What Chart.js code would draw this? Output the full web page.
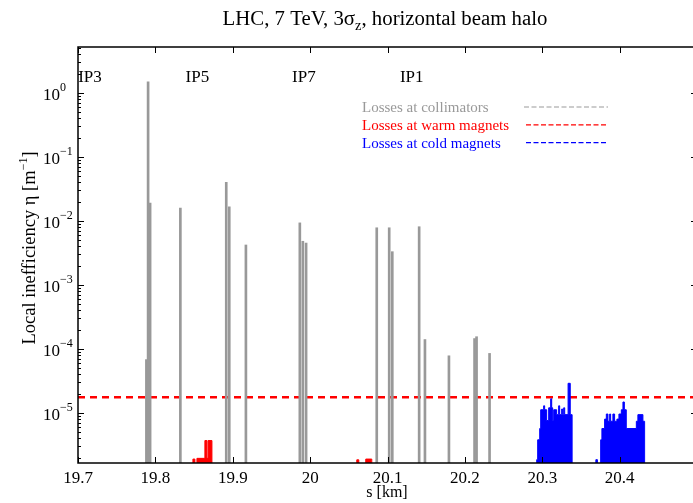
<!DOCTYPE html>
<html>
<head>
<meta charset="utf-8">
<title>LHC loss map</title>
<script src="https://cdn.jsdelivr.net/npm/chart.js@4.4.1/dist/chart.umd.min.js"></script>
<style>
  html, body { margin: 0; padding: 0; background: #fff; overflow: hidden; }
  #wrap { width: 700px; height: 503px; }
</style>
</head>
<body>
<div id="wrap"><canvas id="lossMap" width="700" height="503"></canvas></div>
<script>
// losses at collimators: position s [km] and local inefficiency
const collS   = [19.7884, 19.7906, 19.7932, 19.8323, 19.8916, 19.8955, 19.9170,
                 19.9867, 19.9906, 19.9948, 20.0861, 20.1022, 20.1062, 20.1409,
                 20.1484, 20.1794, 20.2125, 20.2151, 20.2319];
const collEta = [6.8e-5, 1.49, 0.019, 0.0159, 0.040, 0.0165, 0.0042,
                 0.0093, 0.0048, 0.0045, 0.0078, 0.0078, 0.0033, 0.0081,
                 1.40e-4, 7.8e-5, 1.45e-4, 1.55e-4, 8.5e-5];

// losses at warm magnets (histogram steps, each value holds until the next s)
const warmS   = [19.8485, 19.8485, 19.8511, 19.8537, 19.8640, 19.8666, 19.8681, 19.8731,
                 20.0603, 20.0629, 20.0719, 20.0797];
const warmEta = [1e-9, 1.9e-6, 1e-9, 1.95e-6, 3.7e-6, 1.95e-6, 3.7e-6, 1e-9,
                 1.85e-6, 1e-9, 1.9e-6, 1e-9];

// losses at cold magnets (same step layout)
const coldS   = [20.2928, 20.2928, 20.2941, 20.2967, 20.2980, 20.3018, 20.3031, 20.3057,
                 20.3083, 20.3109, 20.3122, 20.3135, 20.3148, 20.3186, 20.3212, 20.3225,
                 20.3251, 20.3264, 20.3277, 20.3290, 20.3334, 20.3362, 20.3386,
                 20.3693, 20.3713, 20.3755, 20.3771, 20.3806, 20.3828, 20.3849, 20.3871,
                 20.3884, 20.3913, 20.3935, 20.3965, 20.3991, 20.4022, 20.4043, 20.4061,
                 20.4086, 20.4216, 20.4236, 20.4301, 20.4323];
const coldEta = [1e-9, 1.86e-6, 3.8e-6, 5.7e-6, 1.12e-5, 1.29e-5, 1.12e-5, 7.6e-6,
                 1.2e-5, 1.66e-5, 1.2e-5, 7.6e-6, 1.12e-5, 9.4e-6, 1.29e-5, 9.4e-6,
                 1.15e-5, 9.4e-6, 1.2e-5, 9.4e-6, 2.9e-5, 9.4e-6, 1e-9,
                 1.86e-6, 1e-9, 3.8e-6, 5.7e-6, 8.0e-6, 9.6e-6, 7.4e-6, 9.6e-6,
                 7.4e-6, 9.6e-6, 7.4e-6, 8.0e-6, 9.6e-6, 1.12e-5, 1.48e-5, 1.12e-5,
                 5.7e-6, 7.4e-6, 9.4e-6, 7.4e-6, 1e-9];

const threshold = 1.75e-5;

const xTicks = [19.7, 19.8, 19.9, 20, 20.1, 20.2, 20.3, 20.4];
const yDecades = [0, -1, -2, -3, -4, -5];

const ipNames = ['IP3', 'IP5', 'IP7', 'IP1'];
const ipS = [19.7155, 19.8543, 19.9919, 20.1313];

const legendNames = ['Losses at collimators', 'Losses at warm magnets', 'Losses at cold magnets'];
const legendColors = ['#999999', '#ff0000', '#0000ff'];

const SERIF = "'Liberation Serif', 'Times New Roman', serif";

const pts = (xs, ys) => xs.map((s, i) => ({ x: s, y: ys[i] }));

// draws text made of pieces (normal, superscript, subscript)
function richText(ctx, parts, x, y, align) {
  let w = 0;
  parts.forEach(p => { ctx.font = p.size + 'px ' + SERIF; p.w = ctx.measureText(p.t).width; w += p.w; });
  let cx = align === 'center' ? x - w / 2 : x;
  ctx.textAlign = 'left';
  ctx.textBaseline = 'alphabetic';
  parts.forEach(p => {
    ctx.font = p.size + 'px ' + SERIF;
    ctx.fillText(p.t, cx, y + (p.dy || 0));
    cx += p.w;
  });
}

const decorations = {
  id: 'decorations',
  afterDraw(chart) {
    const { ctx, chartArea: a, scales: { x, y } } = chart;
    ctx.save();
    ctx.fillStyle = '#000';
    ctx.strokeStyle = '#000';

    // ticks, pointing inwards
    ctx.lineWidth = 1;
    ctx.beginPath();
    xTicks.forEach(v => {
      const px = Math.round(x.getPixelForValue(v)) + 0.5;
      ctx.moveTo(px, a.bottom); ctx.lineTo(px, a.bottom - 6);
      ctx.moveTo(px, a.top); ctx.lineTo(px, a.top + 6);
    });
    for (let d = -6; d <= 0; d++) {
      for (let m = 1; m <= 9; m++) {
        const v = m * Math.pow(10, d);
        if (v < y.min || v > y.max) continue;
        const py = Math.round(y.getPixelForValue(v)) + 0.5;
        const len = m === 1 ? 6 : 3;
        ctx.moveTo(a.left, py); ctx.lineTo(a.left + len, py);
        ctx.moveTo(a.right, py); ctx.lineTo(a.right - len, py);
      }
    }
    ctx.stroke();

    // frame
    ctx.lineWidth = 1.5;
    ctx.strokeRect(a.left, a.top, a.right - a.left, a.bottom - a.top);

    // x tick labels
    ctx.font = '17px ' + SERIF;
    ctx.textAlign = 'center';
    ctx.textBaseline = 'alphabetic';
    xTicks.forEach(v => ctx.fillText(String(v), x.getPixelForValue(v), 483));

    // y tick labels 10^n
    yDecades.forEach(d => {
      const py = y.getPixelForValue(Math.pow(10, d));
      const exp = d === 0 ? '0' : '\u2212' + Math.abs(d);
      richText(ctx, [{ t: '10', size: 17 }, { t: exp, size: 12, dy: -9 }], 43, py + 7, 'left');
    });

    // IP markers
    ctx.font = '17px ' + SERIF;
    ctx.textAlign = 'center';
    ipNames.forEach((n, i) => ctx.fillText(n, x.getPixelForValue(ipS[i]), 81.5));

    // title
    richText(ctx, [
      { t: 'LHC, 7 TeV, 3\u03c3', size: 20.8 },
      { t: 'z', size: 14.5, dy: 5 },
      { t: ', horizontal beam halo', size: 20.8 }
    ], 385, 25, 'center');

    // axis titles
    richText(ctx, [{ t: 's [km]', size: 16 }], 387, 497, 'center');
    ctx.save();
    ctx.translate(35, 248);
    ctx.rotate(-Math.PI / 2);
    richText(ctx, [
      { t: 'Local inefficiency \u03b7 [m', size: 18.5 },
      { t: '\u22121', size: 12, dy: -8 },
      { t: ']', size: 18.5 }
    ], 0, 0, 'center');
    ctx.restore();

    // legend
    legendNames.forEach((n, i) => {
      const ly = 107 + i * 17.8;
      ctx.fillStyle = legendColors[i];
      ctx.font = '15px ' + SERIF;
      ctx.textAlign = 'left';
      ctx.fillText(n, 362, ly + 5);
      ctx.strokeStyle = legendColors[i];
      ctx.lineWidth = i === 0 ? 1 : 1.3;
      ctx.setLineDash([5, 2.5]);
      ctx.beginPath();
      ctx.moveTo(i === 0 ? 524 : 526, ly);
      ctx.lineTo(608, ly);
      ctx.stroke();
      ctx.setLineDash([]);
    });

    ctx.restore();
  }
};

new Chart(document.getElementById('lossMap'), {
  type: 'line',
  data: {
    datasets: [
      {
        label: 'cold',
        data: pts(coldS, coldEta),
        stepped: true,
        borderColor: '#0000ff',
        backgroundColor: '#0000ff',
        borderWidth: 1,
        fill: 'start',
        pointRadius: 0
      },
      {
        label: 'warm',
        data: pts(warmS, warmEta),
        stepped: true,
        borderColor: '#ff0000',
        backgroundColor: '#ff0000',
        borderWidth: 1,
        fill: 'start',
        pointRadius: 0
      },
      {
        type: 'bar',
        label: 'collimators',
        data: pts(collS, collEta),
        backgroundColor: '#999999',
        borderWidth: 0,
        barThickness: 2
      },
      {
        label: 'threshold',
        data: [{ x: 19.7, y: threshold }, { x: 20.5, y: threshold }],
        borderColor: '#ff0000',
        borderWidth: 2.5,
        borderDash: [7, 5],
        pointRadius: 0,
        fill: false
      }
    ]
  },
  options: {
    responsive: false,
    animation: false,
    devicePixelRatio: 1,
    layout: { padding: { left: 78, top: 47, right: 3, bottom: 40 } },
    plugins: { legend: { display: false }, tooltip: { enabled: false } },
    scales: {
      x: { type: 'linear', min: 19.7, max: 20.5, offset: false, display: false },
      y: { type: 'logarithmic', min: 1.65e-6, max: 5.2, display: false }
    }
  },
  plugins: [decorations]
});
</script>
</body>
</html>
